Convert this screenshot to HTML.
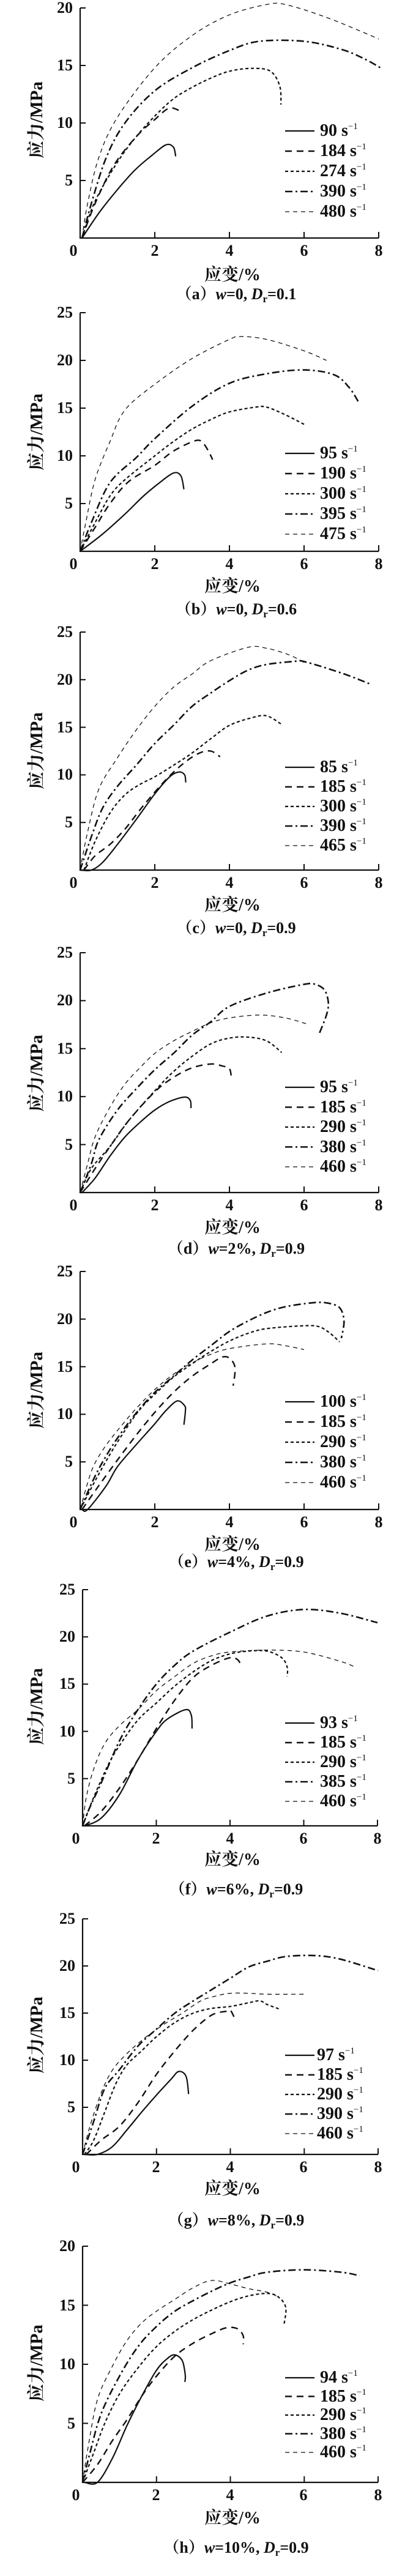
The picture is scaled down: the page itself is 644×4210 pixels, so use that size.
<!DOCTYPE html>
<html><head><meta charset="utf-8">
<style>
html,body{margin:0;padding:0;background:#fff;}
body{width:644px;height:4210px;position:relative;overflow:hidden;font-family:"Liberation Serif","Noto Serif CJK SC",serif;color:#111;}
svg{position:absolute;left:0;top:0;}
.p{position:absolute;left:0;width:644px;height:0;}
.yt{position:absolute;width:44px;text-align:right;line-height:28px;font-weight:bold;font-size:26px;}
.xt{position:absolute;width:40px;text-align:center;line-height:28px;font-weight:bold;font-size:26px;top:7px;}
.xl{position:absolute;left:380px;transform:translateX(-50%);line-height:30px;top:43px;font-weight:bold;font-size:28px;white-space:nowrap;font-family:"Liberation Serif","Noto Serif CJK SC",serif;}
.yl{position:absolute;left:60px;transform:translate(-50%,-50%) rotate(-90deg);line-height:30px;font-weight:bold;font-size:29px;white-space:nowrap;font-family:"Liberation Serif","Noto Serif CJK SC",serif;}
.cap{position:absolute;left:386px;transform:translate(-50%,-50%);font-weight:bold;font-size:26px;white-space:nowrap;line-height:30px;}
.cap i{font-style:italic;}
.cap sub{font-size:17px;vertical-align:-5px;line-height:0;}
.lg{position:absolute;left:523px;font-weight:bold;font-size:28px;line-height:30px;white-space:nowrap;transform:translateY(-50%);}
.lg sup{font-size:15px;vertical-align:11px;line-height:0;font-weight:normal;}
</style></head><body>
<svg id="s" width="644" height="4210" xmlns="http://www.w3.org/2000/svg"></svg>

<!-- a -->
<div class="p" style="top:389px">
<div class="yt" style="left:75px;top:-108px">5</div><div class="yt" style="left:75px;top:-202px">10</div><div class="yt" style="left:75px;top:-296px">15</div><div class="yt" style="left:75px;top:-390px">20</div>
<div class="xt" style="left:100px">0</div><div class="xt" style="left:233px">2</div><div class="xt" style="left:355px">4</div><div class="xt" style="left:477px">6</div><div class="xt" style="left:599px">8</div>
<div class="yl" style="top:-193px">应力/MPa</div>
<div class="xl" style="top:46px">应变/%</div>
<div class="cap" style="top:92px">（a）<i>w</i>=0, <i>D</i><sub>r</sub>=0.1</div>
<div class="lg" style="top:-175px">90 s<sup>−1</sup></div><div class="lg" style="top:-142px">184 s<sup>−1</sup></div><div class="lg" style="top:-109px">274 s<sup>−1</sup></div><div class="lg" style="top:-76px">390 s<sup>−1</sup></div><div class="lg" style="top:-43px">480 s<sup>−1</sup></div>
</div>

<!-- b -->
<div class="p" style="top:901px">
<div class="yt" style="left:75px;top:-92px">5</div><div class="yt" style="left:75px;top:-170px">10</div><div class="yt" style="left:75px;top:-248px">15</div><div class="yt" style="left:75px;top:-326px">20</div><div class="yt" style="left:75px;top:-404px">25</div>
<div class="xt" style="left:100px">0</div><div class="xt" style="left:233px">2</div><div class="xt" style="left:355px">4</div><div class="xt" style="left:477px">6</div><div class="xt" style="left:599px">8</div>
<div class="yl" style="top:-195px">应力/MPa</div>
<div class="xl">应变/%</div>
<div class="cap" style="top:95px">（b）<i>w</i>=0, <i>D</i><sub>r</sub>=0.6</div>
<div class="lg" style="top:-160px">95 s<sup>−1</sup></div><div class="lg" style="top:-127px">190 s<sup>−1</sup></div><div class="lg" style="top:-94px">300 s<sup>−1</sup></div><div class="lg" style="top:-61px">395 s<sup>−1</sup></div><div class="lg" style="top:-28px">475 s<sup>−1</sup></div>
</div>

<!-- c -->
<div class="p" style="top:1422px">
<div class="yt" style="left:75px;top:-92px">5</div><div class="yt" style="left:75px;top:-170px">10</div><div class="yt" style="left:75px;top:-247px">15</div><div class="yt" style="left:75px;top:-325px">20</div><div class="yt" style="left:75px;top:-403px">25</div>
<div class="xt" style="left:100px">0</div><div class="xt" style="left:233px">2</div><div class="xt" style="left:355px">4</div><div class="xt" style="left:477px">6</div><div class="xt" style="left:599px">8</div>
<div class="yl" style="top:-195px">应力/MPa</div>
<div class="xl">应变/%</div>
<div class="cap" style="top:95px">（c）<i>w</i>=0, <i>D</i><sub>r</sub>=0.9</div>
<div class="lg" style="top:-168px">85 s<sup>−1</sup></div><div class="lg" style="top:-136px">185 s<sup>−1</sup></div><div class="lg" style="top:-104px">300 s<sup>−1</sup></div><div class="lg" style="top:-72px">390 s<sup>−1</sup></div><div class="lg" style="top:-40px">465 s<sup>−1</sup></div>
</div>

<!-- d -->
<div class="p" style="top:1949px">
<div class="yt" style="left:75px;top:-92px">5</div><div class="yt" style="left:75px;top:-171px">10</div><div class="yt" style="left:75px;top:-249px">15</div><div class="yt" style="left:75px;top:-328px">20</div><div class="yt" style="left:75px;top:-406px">25</div>
<div class="xt" style="left:100px">0</div><div class="xt" style="left:233px">2</div><div class="xt" style="left:355px">4</div><div class="xt" style="left:477px">6</div><div class="xt" style="left:599px">8</div>
<div class="yl" style="top:-195px">应力/MPa</div>
<div class="xl">应变/%</div>
<div class="cap" style="top:92px">（d）<i>w</i>=2%, <i>D</i><sub>r</sub>=0.9</div>
<div class="lg" style="top:-172px">95 s<sup>−1</sup></div><div class="lg" style="top:-139px">185 s<sup>−1</sup></div><div class="lg" style="top:-107px">290 s<sup>−1</sup></div><div class="lg" style="top:-74px">380 s<sup>−1</sup></div><div class="lg" style="top:-42px">460 s<sup>−1</sup></div>
</div>

<!-- e -->
<div class="p" style="top:2467px">
<div class="yt" style="left:75px;top:-92px">5</div><div class="yt" style="left:75px;top:-170px">10</div><div class="yt" style="left:75px;top:-247px">15</div><div class="yt" style="left:75px;top:-325px">20</div><div class="yt" style="left:75px;top:-403px">25</div>
<div class="xt" style="left:100px">0</div><div class="xt" style="left:233px">2</div><div class="xt" style="left:355px">4</div><div class="xt" style="left:477px">6</div><div class="xt" style="left:599px">8</div>
<div class="yl" style="top:-195px">应力/MPa</div>
<div class="xl">应变/%</div>
<div class="cap" style="top:86px">（e）<i>w</i>=4%, <i>D</i><sub>r</sub>=0.9</div>
<div class="lg" style="top:-176px">100 s<sup>−1</sup></div><div class="lg" style="top:-143px">185 s<sup>−1</sup></div><div class="lg" style="top:-110px">290 s<sup>−1</sup></div><div class="lg" style="top:-77px">380 s<sup>−1</sup></div><div class="lg" style="top:-44px">460 s<sup>−1</sup></div>
</div>

<!-- f -->
<div class="p" style="top:2984px">
<div class="yt" style="left:79px;top:-91px">5</div><div class="yt" style="left:79px;top:-168px">10</div><div class="yt" style="left:79px;top:-246px">15</div><div class="yt" style="left:79px;top:-323px">20</div><div class="yt" style="left:79px;top:-400px">25</div>
<div class="xt" style="left:104px">0</div><div class="xt" style="left:235px">2</div><div class="xt" style="left:356px">4</div><div class="xt" style="left:476px">6</div><div class="xt" style="left:597px">8</div>
<div class="yl" style="top:-195px">应力/MPa</div>
<div class="xl" style="top:41px">应变/%</div>
<div class="cap" style="top:104px">（f）<i>w</i>=6%, <i>D</i><sub>r</sub>=0.9</div>
<div class="lg" style="top:-168px">93 s<sup>−1</sup></div><div class="lg" style="top:-136px">185 s<sup>−1</sup></div><div class="lg" style="top:-104px">290 s<sup>−1</sup></div><div class="lg" style="top:-72px">385 s<sup>−1</sup></div><div class="lg" style="top:-40px">460 s<sup>−1</sup></div>
</div>

<!-- g -->
<div class="p" style="top:3521px">
<div class="yt" style="left:79px;top:-91px">5</div><div class="yt" style="left:79px;top:-168px">10</div><div class="yt" style="left:79px;top:-245px">15</div><div class="yt" style="left:79px;top:-322px">20</div><div class="yt" style="left:79px;top:-399px">25</div>
<div class="xt" style="left:104px">0</div><div class="xt" style="left:235px">2</div><div class="xt" style="left:356px">4</div><div class="xt" style="left:476px">6</div><div class="xt" style="left:598px">8</div>
<div class="yl" style="top:-195px">应力/MPa</div>
<div class="xl" style="top:42px">应变/%</div>
<div class="cap" style="top:108px">（g）<i>w</i>=8%, <i>D</i><sub>r</sub>=0.9</div>
<div class="lg" style="left:518px;top:-162px">97 s<sup>−1</sup></div><div class="lg" style="left:518px;top:-130px">185 s<sup>−1</sup></div><div class="lg" style="left:518px;top:-98px">290 s<sup>−1</sup></div><div class="lg" style="left:518px;top:-66px">390 s<sup>−1</sup></div><div class="lg" style="left:518px;top:-34px">460 s<sup>−1</sup></div>
</div>

<!-- h -->
<div class="p" style="top:4057px">
<div class="yt" style="left:79px;top:-110px">5</div><div class="yt" style="left:79px;top:-207px">10</div><div class="yt" style="left:79px;top:-303px">15</div><div class="yt" style="left:79px;top:-400px">20</div>
<div class="xt" style="left:104px">0</div><div class="xt" style="left:235px">2</div><div class="xt" style="left:356px">4</div><div class="xt" style="left:476px">6</div><div class="xt" style="left:598px">8</div>
<div class="yl" style="top:-195px">应力/MPa</div>
<div class="xl" style="top:44px">应变/%</div>
<div class="cap" style="top:107px">（h）<i>w</i>=10%, <i>D</i><sub>r</sub>=0.9</div>
<div class="lg" style="top:-171px">94 s<sup>−1</sup></div><div class="lg" style="top:-140px">185 s<sup>−1</sup></div><div class="lg" style="top:-110px">290 s<sup>−1</sup></div><div class="lg" style="top:-79px">380 s<sup>−1</sup></div><div class="lg" style="top:-49px">460 s<sup>−1</sup></div>
</div>

<script>
var S=[
 {w:2.2,d:null},
 {w:2.4,d:"11 8"},
 {w:2.2,d:"5 4"},
 {w:2.6,d:"12 5 3 5"},
 {w:1.3,d:"7 6"}
];
var P=[
{x0:131,y0:389,ym:20,yt:13,xe:619,lg:-175,lr:33,c:[
[[0.05,0],[0.6,2.6],[1.39,5.65],[1.93,7.2],[2.3,8.1],[2.5,7.9],[2.56,7.1]],
[[0.05,0],[0.4,3],[0.9,6.3],[1.5,8.8],[2.0,10.3],[2.4,11.3],[2.75,10.9]],
[[0.05,0],[0.4,3.2],[1,6.6],[1.5,8.8],[2,10.6],[2.5,12.1],[3,13.1],[3.5,13.9],[4,14.5],[4.6,14.75],[5.1,14.5],[5.35,13.2],[5.38,11.6]],
[[0.05,0],[0.3,3],[0.7,7],[1.2,10],[2,12.8],[3,14.8],[4,16.3],[4.8,17.1],[6,17.1],[7,16.4],[7.6,15.6],[8.1,14.7]],
[[0.05,0],[0.2,3],[0.5,7],[1,10.5],[2,14.8],[3,17.6],[4,19.4],[5,20.3],[5.5,20.3],[6.5,19.3],[7.5,18],[8,17.3]]]},
{x0:131,y0:901,ym:25,yt:511,xe:619,lg:-160,lr:33,c:[
[[0,0],[0.6,1.8],[1.2,3.9],[1.7,5.8],[2.1,7.1],[2.5,8.2],[2.7,7.9],[2.78,6.5]],
[[0,0],[0.4,2.5],[0.8,5],[1.3,7.3],[2,9],[2.5,10.5],[3.1,11.6],[3.3,11.3],[3.45,10.4],[3.55,9.6]],
[[0,0],[0.4,3],[0.8,5.8],[1.2,7.5],[2,10],[2.5,11.5],[3,12.8],[3.5,13.8],[4,14.6],[4.7,15.1],[5,15.1],[5.5,14.3],[6.05,13.2]],
[[0,0],[0.3,3],[0.8,7.2],[1.5,9.8],[2,11.8],[3,15.2],[4,17.6],[5,18.6],[6,19],[6.8,18.5],[7.2,17.2],[7.45,15.7]],
[[0,0],[0.15,3],[0.4,7.5],[0.8,11.5],[1.2,14.8],[2,17.5],[3,20.2],[4,22.2],[4.3,22.5],[5,22.2],[6,21.0],[6.6,20.0]]]},
{x0:131,y0:1422,ym:25,yt:1033,xe:619,lg:-168,lr:32,c:[
[[0,0],[0.3,0],[0.6,0.8],[1,2.7],[1.5,5.3],[2,8],[2.4,9.8],[2.65,10.3],[2.8,10.0],[2.83,9.2]],
[[0.1,0],[0.4,1.5],[0.8,2.7],[1.2,4.3],[1.7,6.8],[2.3,9.5],[2.8,11.3],[3.2,12.3],[3.5,12.5],[3.75,11.9]],
[[0.1,0],[0.4,3],[0.8,6],[1.2,7.9],[1.6,9],[2,9.8],[2.5,11],[3,12.3],[3.5,13.8],[4,15.2],[4.6,16],[5,16.2],[5.4,15.3]],
[[0,0],[0.3,3.5],[0.6,6.5],[1,8.8],[1.5,11],[2,13.3],[2.5,15.2],[3,17.2],[3.5,18.6],[4,19.9],[4.5,21],[5,21.6],[5.7,21.9],[6,21.9],[7,20.7],[7.8,19.5]],
[[0,0],[0.2,4],[0.5,8.5],[1,11.8],[1.5,14.7],[2,17.2],[2.5,19.2],[3,20.6],[3.5,22],[4.5,23.4],[5,23.3],[5.6,22.6],[6,21.8]]]},
{x0:131,y0:1949,ym:25,yt:1557,xe:619,lg:-172,lr:32.5,c:[
[[0.05,0],[0.4,1.5],[0.8,3.8],[1.2,5.8],[1.6,7.3],[2,8.6],[2.4,9.5],[2.8,9.95],[2.95,9.6],[2.97,8.8]],
[[0,0],[0.4,2.5],[0.8,4.8],[1.3,7.5],[2,10.5],[2.5,12],[3,13],[3.5,13.4],[3.8,13.2],[4.0,12.9],[4.05,12.1]],
[[0,0],[0.3,2.5],[0.8,4.8],[1.3,7.5],[2,10.6],[2.5,12.6],[3,14.2],[3.5,15.5],[4,16.1],[4.5,16.2],[5,15.8],[5.4,14.6]],
[[0,0],[0.3,3],[0.5,5.5],[1,8.6],[1.5,10.8],[2,12.8],[2.5,14.5],[3,16.4],[3.5,17.8],[4,19.4],[5,20.8],[6,21.7],[6.3,21.7],[6.55,21.1],[6.65,19.8],[6.6,18.5],[6.4,16.5]],
[[0,0],[0.2,3],[0.4,5.8],[0.8,8.9],[1.2,11.3],[1.6,13],[2,14.5],[2.5,15.8],[3,16.8],[3.5,17.7],[4,18.2],[4.8,18.5],[5.5,18.2],[6.05,17.6]]]},
{x0:131,y0:2467,ym:25,yt:2078,xe:619,lg:-176,lr:33,c:[
[[0.05,0],[0.2,0],[0.7,2.5],[1,4.5],[1.5,6.8],[2,9],[2.3,10.4],[2.6,11.4],[2.8,10.9],[2.82,10.3],[2.78,8.9]],
[[0.05,0],[0.5,2.5],[1,5.2],[1.5,7.8],[2,10.2],[2.5,12.3],[3,14],[3.5,15.3],[3.8,16],[4.0,15.9],[4.15,14.9],[4.1,13.0]],
[[0,0],[0.4,3],[0.8,5.8],[1.2,8.3],[1.6,10.5],[2,12.1],[2.5,13.9],[3,15.3],[3.5,16.6],[4,17.7],[4.5,18.5],[5,19],[6,19.3],[6.4,19.2],[6.7,18.5],[6.95,17.6]],
[[0,0],[0.4,3.5],[0.8,6.3],[1.2,8.6],[1.6,10.6],[2,12.3],[2.5,14],[3,15.7],[3.5,17.2],[4,18.7],[4.5,19.8],[5,20.7],[5.5,21.3],[6.2,21.7],[6.6,21.7],[6.95,21.2],[7.07,19.8],[7.0,18.0]],
[[0,0],[0.3,4],[0.6,6.2],[1,8.3],[1.5,10.6],[2,12.6],[2.5,14.2],[3,15.4],[3.5,16.3],[4,16.9],[5,17.4],[5.5,17.2],[6,16.8]]]},
{x0:135,y0:2984,ym:25,yt:2598,xe:617,lg:-168,lr:32,c:[
[[0.05,0],[0.5,0.8],[1,3.3],[1.5,7],[2,10],[2.3,11.3],[2.8,12.3],[2.95,11.7],[2.97,10.3]],
[[0.05,0],[0.5,1.5],[1,4],[1.5,7],[2,10.3],[2.5,13.3],[3,15.7],[3.5,17],[4,17.8],[4.2,17.6],[4.3,17.0]],
[[0,0],[0.3,3],[0.7,6.5],[1,8.5],[1.5,11.2],[2,13],[2.5,14.8],[3,16.3],[3.5,17.5],[4,18.2],[4.5,18.5],[5,18.5],[5.4,17.8],[5.55,16.8],[5.55,15.8]],
[[0,0],[0.2,2],[0.5,4.5],[1,9],[1.5,12.3],[2,15],[2.5,17],[3,18.5],[4,20.5],[5,22.2],[6,22.9],[7,22.5],[8,21.5]],
[[0,0],[0.1,3],[0.3,6],[0.6,8.7],[1,10.6],[1.5,12.3],[2,14.3],[2.5,15.8],[3,17.2],[3.5,18],[4,18.4],[5,18.6],[6,18.4],[7,17.4],[7.4,16.8]]]},
{x0:135,y0:3521,ym:25,yt:3136,xe:618,lg:-162,lr:32,c:[
[[0.05,0],[0.4,0],[0.8,0.8],[1.2,2.6],[1.6,4.5],[2,6.3],[2.4,8],[2.6,8.8],[2.8,8.3],[2.87,6.4]],
[[0.1,0],[0.5,1.5],[1,3],[1.5,5.5],[2,8.5],[2.5,11],[3,13.2],[3.5,14.8],[3.9,15.2],[4.0,15.3],[4.1,14.6]],
[[0.05,0],[0.3,1.5],[0.6,4.5],[0.9,7.5],[1.2,9.5],[1.6,11],[2,12.5],[2.5,14],[3,15],[3.5,15.5],[4,15.7],[4.5,16.1],[4.8,16.3],[5.0,15.9],[5.35,15.4]],
[[0,0],[0.3,3.5],[0.6,7],[1,9],[1.5,11.5],[2,13.3],[2.5,15],[3,16.3],[3.5,17.5],[4,18.7],[4.5,19.9],[5,20.5],[5.5,21],[6.3,21.1],[7,20.7],[8,19.5]],
[[0,0],[0.2,3],[0.5,6.5],[0.8,8.9],[1.2,10.7],[1.7,12.4],[2.2,13.8],[2.7,15],[3.2,16.3],[3.6,16.8],[4,17.1],[4.5,17.1],[5,17],[6,17]]]},
{x0:135,y0:4057,ym:20,yt:3671,xe:618,lg:-171,lr:30.5,c:[
[[0.05,0],[0.4,0],[0.8,2],[1.2,4.8],[1.6,7.3],[2,9.5],[2.3,10.5],[2.5,10.8],[2.7,10.3],[2.78,9.1],[2.77,8.5]],
[[0,0],[0.4,1.5],[0.8,3.5],[1.2,5.3],[1.6,7.3],[2,9],[2.5,10.7],[3,11.8],[3.5,12.6],[3.9,13.1],[4.2,13],[4.35,12.4],[4.35,11.7]],
[[0,0],[0.3,2.5],[0.6,5],[1,7.5],[1.5,9.7],[2,11.5],[2.5,12.8],[3,13.8],[3.5,14.6],[4,15.3],[4.5,15.8],[5,16],[5.3,15.7],[5.5,14.8],[5.45,13.3]],
[[0,0],[0.2,2.5],[0.5,5.8],[1,9],[1.5,11.5],[2,13.2],[2.5,14.5],[3,15.4],[3.5,16.2],[4,16.9],[4.5,17.4],[5,17.8],[6,18],[7,17.8],[7.5,17.5]],
[[0,0],[0.15,3],[0.4,7],[0.8,9.8],[1.2,12],[1.6,13.5],[2,14.5],[2.5,15.5],[3,16.5],[3.5,17.1],[4,16.8],[4.5,16.4],[5,16.1],[5.3,15.7]]]}
];
var out="";
function f(v){return v.toFixed(1);}
function path(q){
 var d="M"+f(q[0][0])+","+f(q[0][1]);
 for(var i=0;i<q.length-1;i++){
  var p0=q[i-1]||q[i],p1=q[i],p2=q[i+1],p3=q[i+2]||q[i+1];
  var c1=[p1[0]+(p2[0]-p0[0])/6,p1[1]+(p2[1]-p0[1])/6];
  var c2=[p2[0]-(p3[0]-p1[0])/6,p2[1]-(p3[1]-p1[1])/6];
  d+="C"+f(c1[0])+","+f(c1[1])+" "+f(c2[0])+","+f(c2[1])+" "+f(p2[0])+","+f(p2[1]);
 }
 return d;
}
function st(k){var s=S[k];return 'fill="none" stroke="#111" stroke-width="'+s.w+'"'+(s.d?' stroke-dasharray="'+s.d+'"':'');}
P.forEach(function(p){
 var sx=(p.xe-p.x0)/8, sy=(p.y0-p.yt)/p.ym;
 out+='<path d="M'+p.x0+','+p.yt+'V'+p.y0+'H'+p.xe+'" fill="none" stroke="#111" stroke-width="2.2"/>';
 for(var v=5;v<=p.ym;v+=5){var y=p.y0-v*sy;out+='<line x1="'+p.x0+'" y1="'+f(y)+'" x2="'+(p.x0+9)+'" y2="'+f(y)+'" stroke="#111" stroke-width="2"/>';}
 for(var u=2;u<=8;u+=2){var x=p.x0+u*sx;out+='<line x1="'+f(x)+'" y1="'+p.y0+'" x2="'+f(x)+'" y2="'+(p.y0-10)+'" stroke="#111" stroke-width="2"/>';}
 p.c.forEach(function(c,k){
  var q=c.map(function(pt){return [p.x0+pt[0]*sx,p.y0-pt[1]*sy];});
  out+='<path d="'+path(q)+'" '+st(k)+'/>';
  var ly=p.y0+p.lg+k*p.lr;
  out+='<line x1="466" y1="'+f(ly)+'" x2="514" y2="'+f(ly)+'" '+st(k)+'/>';
 });
});
document.getElementById("s").innerHTML=out;
</script>
</body></html>
